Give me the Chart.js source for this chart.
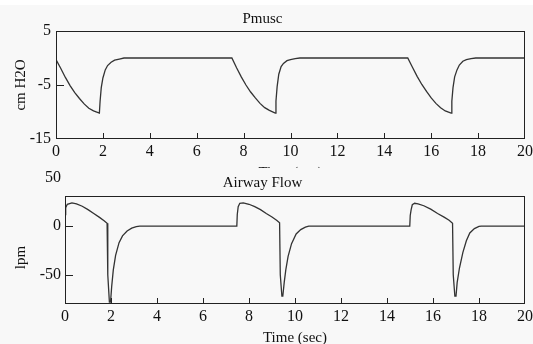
<!DOCTYPE html>
<html lang="en">
<head>
<meta charset="UTF-8">
<title>Pmusc / Airway Flow</title>
<script src="https://cdn.jsdelivr.net/npm/chart.js"></script>
<style>
  html, body { margin: 0; padding: 0; background: #fff; }
  .figure { position: relative; width: 533px; height: 344px; overflow: hidden; }
  .band { position: absolute; left: 0; top: 5px; width: 533px; height: 339px; background: #f8f8f8; }
  #pmuscChart { position: absolute; left: 0; top: 0; }
  #flowChart { position: absolute; left: 0; top: 168px; background: #f8f8f8; }
</style>
</head>
<body>
<div class="figure">
  <div class="band"></div>
  <canvas id="pmuscChart" width="533" height="190"></canvas>
  <canvas id="flowChart" width="533" height="176"></canvas>
</div>
<script>
// tick labels
const timeTicks = [0, 2, 4, 6, 8, 10, 12, 14, 16, 18, 20];
const pmuscTicks = [-15, -5, 5];
const flowTicks = [-50, 0, 50];

// Pmusc (cm H2O)
const pmuscTime = [0, 0.2, 0.4, 0.6, 0.8, 1.0, 1.2, 1.4, 1.6, 1.85, 1.88, 1.93, 2.0, 2.1, 2.2, 2.35, 2.5, 2.7, 2.9,
  7.5, 7.7, 7.9, 8.1, 8.3, 8.5, 8.7, 8.9, 9.1, 9.35, 9.38, 9.43, 9.5, 9.6, 9.7, 9.85, 10.0, 10.2, 10.4,
  15.0, 15.2, 15.4, 15.6, 15.8, 16.0, 16.2, 16.4, 16.6, 16.85, 16.88, 16.93, 17.0, 17.1, 17.2, 17.35, 17.5, 17.7, 17.9, 20];
const pmuscValues = [-0.3, -1.9, -3.6, -5.1, -6.4, -7.5, -8.5, -9.3, -9.8, -10.2, -8.0, -5.5, -3.7, -2.2, -1.4, -0.8, -0.4, -0.2, 0,
  0, -1.8, -3.5, -5.0, -6.3, -7.4, -8.4, -9.2, -9.7, -10.2, -8.0, -5.3, -3.0, -1.6, -1.0, -0.5, -0.3, -0.1, 0,
  0, -1.7, -3.4, -4.9, -6.2, -7.4, -8.4, -9.2, -9.8, -10.2, -8.0, -5.5, -3.5, -2.2, -1.3, -0.6, -0.3, -0.1, 0, 0];

// Airway flow (lpm)
const flowTime = [0, 0.03, 0.1, 0.3, 0.5, 0.75, 1.0, 1.25, 1.5, 1.7, 1.83, 1.86, 1.93, 1.98, 2.03, 2.1, 2.2, 2.35, 2.5, 2.7, 2.9, 3.1, 3.25,
  7.47, 7.49, 7.53, 7.6, 7.75, 8.0, 8.25, 8.5, 8.75, 9.0, 9.2, 9.33, 9.36, 9.43, 9.47, 9.53, 9.6, 9.7, 9.85, 10.05, 10.25, 10.45, 10.6,
  14.99, 15.01, 15.05, 15.1, 15.2, 15.35, 15.6, 15.9, 16.2, 16.5, 16.7, 16.85, 16.88, 16.95, 17.0, 17.05, 17.15, 17.3, 17.45, 17.6, 17.8, 18.0, 18.1, 20];
const flowValues = [12, 19, 22.5, 24, 23, 20.5, 17, 13, 9, 5.5, 3, -50, -78, -78, -62, -45, -30, -17, -10, -5, -2, -0.5, 0,
  0, 12, 20, 23.5, 24, 22.5, 20, 17, 13, 9.5, 6, 3.5, -50, -72, -72, -58, -45, -31, -18, -8, -3.5, -1, 0,
  0, 11, 17, 22, 23.5, 23, 21, 17.5, 13, 9, 6, 3, -50, -72, -72, -58, -43, -27, -15, -7, -2.5, -0.3, 0, 0];

const serif = "'Liberation Serif', 'DejaVu Serif', serif";
const ink = '#111';

// frame round the plot + short inward tick marks
const frameAndTicks = {
  id: 'frameAndTicks',
  afterDatasetsDraw(chart) {
    const { ctx, chartArea: a, scales: { x, y } } = chart;
    ctx.save();
    ctx.strokeStyle = '#222';
    ctx.lineWidth = 1;
    ctx.beginPath();
    x.ticks.forEach(t => {
      const px = Math.round(x.getPixelForValue(t.value)) + 0.5;
      if (px > a.left + 1 && px < a.right - 1) {
        ctx.moveTo(px, a.bottom);
        ctx.lineTo(px, a.bottom - 6);
      }
    });
    y.ticks.forEach(t => {
      const py = Math.round(y.getPixelForValue(t.value)) + 0.5;
      if (py > a.top + 1 && py < a.bottom - 1) {
        ctx.moveTo(a.left, py);
        ctx.lineTo(a.left + 8, py);
      }
    });
    ctx.stroke();
    ctx.strokeRect(Math.round(a.left) + 0.5, Math.round(a.top) + 0.5,
      Math.round(a.right - a.left) - 1, Math.round(a.bottom - a.top) - 1);
    ctx.restore();
  }
};

function makeChart(id, opts) {
  const points = opts.time.map((t, i) => ({ x: t, y: opts.values[i] }));
  return new Chart(document.getElementById(id), {
    type: 'line',
    data: {
      datasets: [{
        data: points,
        borderColor: '#333',
        borderWidth: 1.3,
        pointRadius: 0,
        tension: 0
      }]
    },
    options: {
      responsive: false,
      animation: false,
      layout: { padding: { left: 0, right: 8, top: 0, bottom: 0 } },
      plugins: {
        legend: { display: false },
        tooltip: { enabled: false },
        title: {
          display: true,
          text: opts.title,
          color: ink,
          font: { family: serif, size: 15, weight: 'normal', lineHeight: 1.2 },
          padding: opts.titlePad
        }
      },
      scales: {
        x: {
          type: 'linear',
          min: 0,
          max: 20,
          afterBuildTicks: s => { s.ticks = timeTicks.map(v => ({ value: v })); },
          afterFit: s => {
            s.height = opts.xHeight;
            s.paddingLeft = 0;
            s.paddingRight = 0;
          },
          grid: { display: false, drawTicks: false },
          border: { display: false },
          ticks: { color: ink, padding: 3, maxRotation: 0, font: { family: serif, size: 16 } },
          title: {
            display: true,
            text: 'Time (sec)',
            color: ink,
            font: { family: serif, size: 15, lineHeight: 0.8 },
            padding: { top: 0, bottom: opts.xTitleBottom }
          }
        },
        y: {
          type: 'linear',
          min: opts.yMin,
          max: opts.yMax,
          afterBuildTicks: s => { s.ticks = opts.yTicks.map(v => ({ value: v })); },
          afterFit: s => { s.width = opts.yWidth; },
          grid: { display: false, drawTicks: false },
          border: { display: false },
          ticks: { color: ink, padding: opts.yPad, font: { family: serif, size: 16 } },
          title: {
            display: true,
            text: opts.yTitle,
            color: ink,
            font: { family: serif, size: 15, lineHeight: 1 },
            padding: { top: 14, bottom: 0 }
          }
        }
      }
    },
    plugins: [frameAndTicks]
  });
}

makeChart('pmuscChart', {
  time: pmuscTime, values: pmuscValues, title: 'Pmusc',
  titlePad: { top: 10, bottom: 3 },
  xHeight: 51, xTitleBottom: 10.5,
  yMin: -15, yMax: 5, yTicks: pmuscTicks, yWidth: 56, yPad: 5,
  yTitle: 'cm H2O'
});

makeChart('flowChart', {
  time: flowTime, values: flowValues, title: 'Airway Flow',
  titlePad: { top: 6, bottom: 4 },
  xHeight: 40, xTitleBottom: 0,
  yMin: -80, yMax: 31, yTicks: flowTicks, yWidth: 65, yPad: 4,
  yTitle: 'lpm    '
});
</script>
</body>
</html>
